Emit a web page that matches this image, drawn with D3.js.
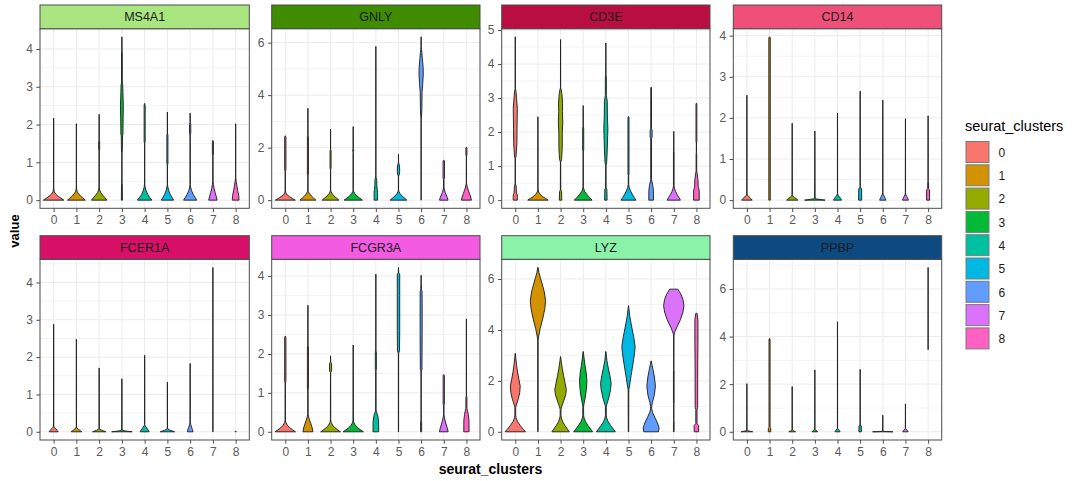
<!DOCTYPE html>
<html><head><meta charset="utf-8">
<script src="https://cdn.jsdelivr.net/npm/d3@7"></script>
<style>body{margin:0;background:#fff} svg{display:block;font-family:"Liberation Sans",Arial,sans-serif}</style>
</head><body><svg id="c" width="1080" height="481"></svg>
<script>
// ---------------- data ----------------
const genes = ["MS4A1","GNLY","CD3E","CD14","FCER1A","FCGR3A","LYZ","PPBP"];
const clusters = ["0","1","2","3","4","5","6","7","8"];
const clusterColors = ["#F8766D","#D39200","#93AA00","#00BA38","#00C19F","#00B9E3","#619CFF","#DB72FB","#FF61C3"];
const stripColors = ["#AAE67F","#3F8C00","#B90E41","#EE507A","#D81068","#F25BE2","#8BF2AA","#0C4A80"];
const yTicksMS4A1 = [0,1,2,3,4];
const yTicksGNLY = [0,2,4,6];
const yTicksCD3E = [0,1,2,3,4,5];
const yTicksCD14 = [0,1,2,3,4];
const yTicksFCER1A = [0,1,2,3,4];
const yTicksFCGR3A = [0,1,2,3,4];
const yTicksLYZ = [0,2,4,6];
const yTicksPPBP = [0,2,4,6];

// violin profiles per cluster: [expression value, relative half-width]
const violinMS4A1 = [
 [[0,1],[0.05,0.72],[0.1,0.45],[0.16,0.2],[0.22,0.06],[0.3,0.02],[0.4,0.006],[2.17,0.004]],
 [[0,0.87],[0.05,0.65],[0.11,0.4],[0.18,0.18],[0.24,0.05],[0.32,0.015],[0.4,0.005],[2.02,0.004]],
 [[0,0.75],[0.06,0.58],[0.13,0.35],[0.2,0.16],[0.27,0.05],[0.35,0.012],[1.3,0.006],[1.35,0.05],[1.55,0.05],[1.6,0.006],[2.27,0.004]],
 [[0,0.05],[0.4,0.04],[0.45,0.005],[1.25,0.006],[1.3,0.04],[1.7,0.06],[1.75,0.1],[2.2,0.12],[2.5,0.14],[2.85,0.1],[3.05,0.08],[3.1,0.04],[3.9,0.04],[3.95,0.008],[4.32,0.004]],
 [[0,0.7],[0.07,0.5],[0.15,0.3],[0.25,0.14],[0.35,0.04],[0.42,0.01],[1.5,0.008],[1.55,0.05],[2.5,0.05],[2.56,0.005]],
 [[0,0.6],[0.07,0.45],[0.15,0.28],[0.25,0.13],[0.35,0.04],[0.42,0.01],[0.92,0.008],[0.97,0.05],[1.72,0.05],[1.77,0.006],[2.33,0.004]],
 [[0,0.64],[0.07,0.48],[0.15,0.3],[0.25,0.14],[0.35,0.04],[0.42,0.01],[1.72,0.008],[1.77,0.06],[2.0,0.06],[2.05,0.006],[2.3,0.004]],
 [[0,0.41],[0.1,0.32],[0.2,0.22],[0.3,0.12],[0.42,0.05],[0.5,0.015],[1.18,0.01],[1.22,0.05],[1.55,0.05],[1.58,0.006]],
 [[0,0.33],[0.12,0.3],[0.25,0.2],[0.38,0.12],[0.5,0.05],[0.58,0.015],[0.7,0.005],[2.02,0.004]]
];
const violinGNLY = [
 [[0,0.98],[0.06,0.7],[0.13,0.42],[0.2,0.18],[0.28,0.05],[0.36,0.012],[1.1,0.008],[1.15,0.06],[2.4,0.06],[2.45,0.006]],
 [[0,0.78],[0.08,0.55],[0.16,0.33],[0.25,0.14],[0.33,0.04],[0.4,0.01],[0.92,0.008],[0.97,0.05],[2.42,0.05],[2.47,0.006],[3.5,0.004]],
 [[0,0.82],[0.08,0.58],[0.16,0.34],[0.25,0.14],[0.33,0.04],[0.4,0.01],[1.17,0.008],[1.22,0.05],[1.88,0.05],[1.93,0.006],[2.7,0.004]],
 [[0,0.9],[0.08,0.62],[0.16,0.36],[0.25,0.15],[0.33,0.04],[0.4,0.01],[1.82,0.006],[1.86,0.04],[1.93,0.04],[1.97,0.006],[2.8,0.004]],
 [[0,0.17],[0.3,0.17],[0.4,0.14],[0.55,0.1],[0.75,0.09],[0.85,0.03],[0.95,0.008],[5.85,0.004]],
 [[0,0.82],[0.08,0.58],[0.16,0.34],[0.25,0.14],[0.33,0.04],[0.4,0.01],[0.92,0.01],[0.97,0.08],[1.1,0.12],[1.3,0.1],[1.38,0.04],[1.45,0.006],[1.75,0.004]],
 [[0,0.004],[3.1,0.006],[3.2,0.04],[3.5,0.07],[4.1,0.09],[4.4,0.15],[4.8,0.21],[5.1,0.19],[5.4,0.12],[5.62,0.07],[5.75,0.03],[5.85,0.008],[6.22,0.004]],
 [[0,0.42],[0.1,0.34],[0.2,0.24],[0.3,0.13],[0.42,0.05],[0.5,0.02],[0.78,0.02],[0.82,0.07],[1.5,0.07],[1.52,0.005]],
 [[0,0.49],[0.12,0.42],[0.25,0.3],[0.38,0.18],[0.5,0.08],[0.62,0.02],[0.7,0.005],[1.68,0.006],[1.72,0.05],[1.98,0.05],[2.02,0.005]]
];
const violinCD3E = [
 [[0,0.2],[0.15,0.2],[0.2,0.12],[0.42,0.08],[0.48,0.01],[1.22,0.01],[1.3,0.08],[1.7,0.16],[2.1,0.17],[2.5,0.19],[2.7,0.2],[3.0,0.12],[3.2,0.07],[3.28,0.01],[4.8,0.004]],
 [[0,1],[0.05,0.75],[0.1,0.48],[0.17,0.22],[0.24,0.06],[0.32,0.015],[0.4,0.005],[2.45,0.004]],
 [[0,0.12],[0.25,0.1],[0.3,0.02],[1.12,0.012],[1.2,0.1],[1.5,0.16],[2.0,0.17],[2.3,0.22],[2.6,0.18],[2.85,0.2],[3.1,0.14],[3.25,0.06],[3.3,0.01],[4.72,0.004]],
 [[0,0.87],[0.08,0.62],[0.16,0.38],[0.25,0.16],[0.33,0.05],[0.4,0.012],[1.42,0.008],[1.47,0.05],[2.12,0.05],[2.17,0.006],[2.78,0.004]],
 [[0,0.12],[0.32,0.1],[0.36,0.02],[1.03,0.015],[1.1,0.08],[1.5,0.14],[1.9,0.18],[2.1,0.2],[2.5,0.15],[2.9,0.14],[3.02,0.08],[3.08,0.05],[3.62,0.05],[3.68,0.006],[4.62,0.004]],
 [[0,0.74],[0.08,0.56],[0.17,0.38],[0.27,0.2],[0.37,0.08],[0.45,0.025],[0.72,0.02],[0.77,0.05],[2.42,0.05],[2.46,0.005]],
 [[0,0.23],[0.3,0.22],[0.45,0.15],[0.55,0.08],[0.6,0.04],[1.82,0.04],[1.86,0.1],[2.05,0.1],[2.1,0.04],[3.3,0.03],[3.32,0.005]],
 [[0,0.65],[0.08,0.5],[0.16,0.34],[0.25,0.18],[0.35,0.07],[0.42,0.03],[1.42,0.03],[1.46,0.006],[2.02,0.004]],
 [[0,0.28],[0.3,0.27],[0.38,0.18],[0.6,0.15],[0.78,0.08],[0.85,0.03],[1.35,0.03],[1.4,0.006],[1.68,0.006],[1.72,0.04],[2.82,0.04],[2.85,0.005]]
];
const violinCD14 = [
 [[0,0.52],[0.04,0.38],[0.08,0.2],[0.12,0.06],[0.16,0.01],[2.55,0.004]],
 [[0,0.07],[3.95,0.07],[3.97,0.01]],
 [[0,0.55],[0.04,0.38],[0.07,0.2],[0.1,0.06],[0.14,0.01],[1.87,0.004]],
 [[0,1],[0.01,0.7],[0.02,0.4],[0.03,0.15],[0.05,0.02],[1.68,0.004]],
 [[0,0.4],[0.04,0.3],[0.08,0.18],[0.12,0.06],[0.16,0.01],[2.12,0.004]],
 [[0,0.15],[0.28,0.14],[0.3,0.01],[2.65,0.004]],
 [[0,0.31],[0.04,0.24],[0.09,0.15],[0.14,0.05],[0.18,0.01],[2.43,0.004]],
 [[0,0.29],[0.04,0.23],[0.08,0.14],[0.13,0.05],[0.17,0.01],[1.98,0.004]],
 [[0,0.15],[0.25,0.14],[0.28,0.04],[0.42,0.04],[0.45,0.005],[2.05,0.004]]
];
const violinFCER1A = [
 [[0,0.44],[0.04,0.33],[0.08,0.2],[0.12,0.06],[0.16,0.01],[2.88,0.004]],
 [[0,0.52],[0.03,0.38],[0.06,0.22],[0.1,0.06],[0.14,0.01],[2.48,0.004]],
 [[0,0.65],[0.02,0.45],[0.04,0.25],[0.07,0.06],[0.1,0.01],[1.71,0.004]],
 [[0,1],[0.01,0.7],[0.02,0.35],[0.035,0.1],[0.05,0.015],[1.42,0.004]],
 [[0,0.44],[0.05,0.33],[0.1,0.2],[0.16,0.05],[0.2,0.01],[2.05,0.004]],
 [[0,0.7],[0.02,0.5],[0.04,0.28],[0.07,0.07],[0.1,0.01],[1.33,0.004]],
 [[0,0.28],[0.06,0.22],[0.12,0.14],[0.2,0.05],[0.24,0.015],[1.83,0.006]],
 [[0,0.004],[4.4,0.004]],
 [[0,0.06],[0.02,0.004]]
];
const violinFCGR3A = [
 [[0,1],[0.05,0.72],[0.1,0.45],[0.17,0.2],[0.24,0.06],[0.3,0.015],[1.25,0.008],[1.3,0.06],[2.42,0.06],[2.46,0.005]],
 [[0,0.49],[0.1,0.42],[0.2,0.3],[0.3,0.16],[0.4,0.05],[0.47,0.015],[1.07,0.01],[1.12,0.05],[2.18,0.05],[2.22,0.006],[3.25,0.004]],
 [[0,0.97],[0.05,0.7],[0.1,0.44],[0.17,0.2],[0.24,0.06],[0.3,0.015],[1.52,0.008],[1.56,0.1],[1.75,0.1],[1.8,0.008],[1.95,0.004]],
 [[0,1],[0.05,0.72],[0.1,0.45],[0.17,0.2],[0.24,0.06],[0.3,0.015],[2.23,0.004]],
 [[0,0.28],[0.25,0.27],[0.4,0.2],[0.5,0.08],[0.55,0.02],[1.57,0.015],[1.6,0.05],[2.05,0.05],[2.08,0.006],[4.05,0.004]],
 [[0,0.01],[2.02,0.015],[2.08,0.1],[2.6,0.12],[3.5,0.12],[4.05,0.12],[4.08,0.02],[4.22,0.004]],
 [[0,0.05],[0.25,0.05],[0.28,0.008],[1.55,0.01],[1.6,0.08],[2.5,0.1],[3.3,0.1],[3.6,0.09],[3.65,0.03],[3.75,0.03],[3.8,0.006],[4.02,0.004]],
 [[0,0.43],[0.1,0.34],[0.2,0.22],[0.3,0.12],[0.38,0.05],[0.45,0.02],[0.68,0.02],[0.72,0.06],[1.44,0.06],[1.47,0.005]],
 [[0,0.26],[0.3,0.25],[0.45,0.18],[0.55,0.1],[0.6,0.05],[0.88,0.05],[0.92,0.006],[2.9,0.004]]
];
const violinLYZ = [
 [[0,1],[0.1,0.78],[0.25,0.48],[0.4,0.22],[0.55,0.07],[0.65,0.04],[0.95,0.04],[1.05,0.1],[1.3,0.3],[1.55,0.44],[1.8,0.48],[2.05,0.36],[2.35,0.22],[2.65,0.12],[2.9,0.05],[3.08,0.01]],
 [[0,0.01],[3.6,0.015],[3.72,0.06],[4.05,0.22],[4.45,0.48],[4.85,0.68],[5.15,0.75],[5.5,0.62],[5.8,0.42],[6.05,0.24],[6.25,0.1],[6.45,0.02]],
 [[0,0.85],[0.1,0.68],[0.25,0.42],[0.4,0.2],[0.55,0.07],[0.65,0.04],[0.88,0.04],[0.98,0.1],[1.2,0.3],[1.45,0.5],[1.65,0.57],[1.9,0.45],[2.2,0.3],[2.5,0.16],[2.75,0.07],[2.95,0.01]],
 [[0,0.93],[0.1,0.74],[0.25,0.46],[0.4,0.22],[0.55,0.08],[0.65,0.04],[1.0,0.035],[1.1,0.08],[1.4,0.22],[1.7,0.32],[2.0,0.36],[2.3,0.3],[2.6,0.18],[2.9,0.08],[3.15,0.01]],
 [[0,0.93],[0.1,0.74],[0.25,0.46],[0.4,0.22],[0.55,0.08],[0.65,0.04],[0.98,0.04],[1.08,0.1],[1.35,0.3],[1.65,0.46],[1.9,0.52],[2.2,0.4],[2.5,0.24],[2.8,0.1],[3.15,0.01]],
 [[0,0.02],[1.65,0.03],[1.75,0.08],[2.2,0.25],[2.7,0.45],[3.1,0.6],[3.35,0.65],[3.75,0.5],[4.15,0.3],[4.55,0.12],[4.8,0.05],[4.95,0.01]],
 [[0,0.72],[0.15,0.78],[0.35,0.62],[0.55,0.38],[0.75,0.15],[0.9,0.05],[1.0,0.05],[1.15,0.12],[1.45,0.32],[1.8,0.42],[2.15,0.32],[2.45,0.18],[2.65,0.07],[2.78,0.01]],
 [[0,0.03],[0.4,0.03],[0.45,0.008],[1.08,0.008],[1.12,0.03],[2.4,0.03],[2.45,0.008],[3.8,0.02],[3.92,0.1],[4.15,0.35],[4.4,0.65],[4.7,0.9],[4.95,1.0],[5.2,0.9],[5.4,0.7],[5.6,0.4]],
 [[0,0.22],[0.25,0.22],[0.32,0.06],[0.88,0.06],[0.95,0.12],[2.7,0.13],[3.5,0.15],[4.4,0.15],[4.65,0.06]]
];
const violinPPBP = [
 [[0,0.57],[0.015,0.4],[0.03,0.2],[0.05,0.05],[0.07,0.01],[2.02,0.004]],
 [[0,0.12],[0.15,0.12],[0.18,0.05],[3.9,0.05],[3.92,0.005]],
 [[0,0.33],[0.02,0.24],[0.04,0.14],[0.07,0.04],[0.09,0.01],[1.9,0.004]],
 [[0,0.28],[0.03,0.22],[0.06,0.13],[0.1,0.04],[0.13,0.01],[2.6,0.004]],
 [[0,0.25],[0.04,0.2],[0.08,0.12],[0.12,0.04],[0.15,0.01],[4.62,0.004]],
 [[0,0.12],[0.25,0.11],[0.28,0.01],[2.62,0.004]],
 [[0,1],[0.005,0.6],[0.01,0.3],[0.02,0.05],[0.03,0.01],[0.7,0.004]],
 [[0,0.26],[0.04,0.21],[0.08,0.13],[0.12,0.04],[0.15,0.01],[1.17,0.004]],
 [[3.45,0.004],[6.9,0.004]]
];
const violinsByGene = [violinMS4A1, violinGNLY, violinCD3E, violinCD14, violinFCER1A, violinFCGR3A, violinLYZ, violinPPBP];
const yTicksByGene = [yTicksMS4A1, yTicksGNLY, yTicksCD3E, yTicksCD14, yTicksFCER1A, yTicksFCGR3A, yTicksLYZ, yTicksPPBP];

// ---------------- layout ----------------
const svg = d3.select("#c");
const colLeft = [40, 271.7, 501.7, 733.3];
const colRight = [249.3, 480, 710, 941.7];
const rowStripTop = [5, 235.7];
const rowPlotTop = [28.7, 259.3];
const rowPlotBottom = [208.3, 440];

genes.forEach((gene, gi) => {
  const col = gi % 4, row = Math.floor(gi / 4);
  const x0 = colLeft[col], x1 = colRight[col];
  const top = rowPlotTop[row], bottom = rowPlotBottom[row];
  const violins = violinsByGene[gi];
  const allVals = violins.flat().map(d => d[0]);
  const vmin = d3.min(allVals), vmax = d3.max(allVals);
  const pad = 0.05 * (vmax - vmin);
  const y = d3.scaleLinear().domain([vmin - pad, vmax + pad]).range([bottom, top]);
  const x = d3.scalePoint().domain(clusters).range([x0, x1]).padding(0.6);
  const half = 0.45 * x.step();
  const ticks = yTicksByGene[gi];
  const g = svg.append("g");

  // grid
  const minor = [];
  for (let i = 0; i < ticks.length - 1; i++) minor.push((ticks[i] + ticks[i+1]) / 2);
  const stepT = ticks[1] - ticks[0];
  const extra = ticks[ticks.length-1] + stepT/2;
  if (extra < y.domain()[1]) minor.push(extra);
  g.selectAll(".mn").data(minor).join("line")
    .attr("x1", x0).attr("x2", x1).attr("y1", d => y(d)).attr("y2", d => y(d))
    .attr("stroke", "#F3F3F3").attr("stroke-width", 1);
  g.selectAll(".mj").data(ticks).join("line")
    .attr("x1", x0).attr("x2", x1).attr("y1", d => y(d)).attr("y2", d => y(d))
    .attr("stroke", "#EBEBEB").attr("stroke-width", 1);
  g.selectAll(".mv").data(clusters).join("line")
    .attr("x1", d => x(d)).attr("x2", d => x(d)).attr("y1", top).attr("y2", bottom)
    .attr("stroke", "#EBEBEB").attr("stroke-width", 1);

  // violins
  violins.forEach((prof, ci) => {
    const cx = x(clusters[ci]);
    const area = d3.area().curve(d3.curveLinear)
      .y(d => y(d[0]))
      .x0(d => cx - d[1] * half)
      .x1(d => cx + d[1] * half);
    g.append("path").attr("d", area(prof))
      .attr("fill", clusterColors[ci]).attr("stroke", "#222")
      .attr("stroke-width", 0.95).attr("stroke-linejoin", "round");
  });

  // border
  g.append("rect").attr("x", x0).attr("y", top).attr("width", x1 - x0).attr("height", bottom - top)
    .attr("fill", "none").attr("stroke", "#4D4D4D").attr("stroke-width", 1);

  // strip
  const st = rowStripTop[row];
  g.append("rect").attr("x", x0).attr("y", st).attr("width", x1 - x0).attr("height", top - st)
    .attr("fill", stripColors[gi]).attr("stroke", "#4D4D4D").attr("stroke-width", 1);
  g.append("text").attr("x", (x0 + x1) / 2).attr("y", (st + top) / 2).attr("dy", "0.35em")
    .attr("text-anchor", "middle").attr("font-size", 12.5).attr("fill", "#1A1A1A").text(gene);

  // axes
  const ya = g.append("g").attr("transform", `translate(${x0},0)`)
    .call(d3.axisLeft(y).tickValues(ticks).tickSize(3.7).tickPadding(3.5).tickFormat(d3.format("d")));
  const xa = g.append("g").attr("transform", `translate(0,${bottom})`)
    .call(d3.axisBottom(x).tickSize(3.7).tickPadding(3.5));
  [ya, xa].forEach(a => {
    a.select(".domain").remove();
    a.selectAll(".tick line").attr("stroke", "#4D4D4D");
    a.selectAll(".tick text").attr("fill", "#5A5A5A").attr("font-size", 12)
      .attr("font-family", '"Liberation Sans",Arial,sans-serif');
  });
});

// axis titles
svg.append("text").attr("x", 490.5).attr("y", 469).attr("dy", "0.35em").attr("text-anchor", "middle")
  .attr("font-size", 14).attr("font-weight", "bold").attr("fill", "#000").text("seurat_clusters");
svg.append("text").attr("transform", "translate(14,231) rotate(-90)").attr("dy", "0.35em")
  .attr("text-anchor", "middle").attr("font-size", 13).attr("font-weight", "bold").attr("fill", "#000").text("value");

// legend
const lg = svg.append("g");
lg.append("text").attr("x", 965).attr("y", 131).attr("font-size", 14.5).attr("fill", "#000").text("seurat_clusters");
const ky = d3.scaleBand().domain(clusters).range([141, 141 + 23.3 * clusters.length]);
lg.selectAll(".k").data(clusters).join("rect")
  .attr("x", 966).attr("y", d => ky(d) + 0.5).attr("width", 23).attr("height", 21)
  .attr("fill", (d, i) => clusterColors[i]).attr("stroke", "#7A7A7A").attr("stroke-width", 1);
lg.selectAll(".kl").data(clusters).join("text")
  .attr("x", 998.5).attr("y", d => ky(d) + 11.5).attr("dy", "0.35em")
  .attr("font-size", 12).attr("fill", "#1A1A1A").text(d => d);
</script></body></html>
